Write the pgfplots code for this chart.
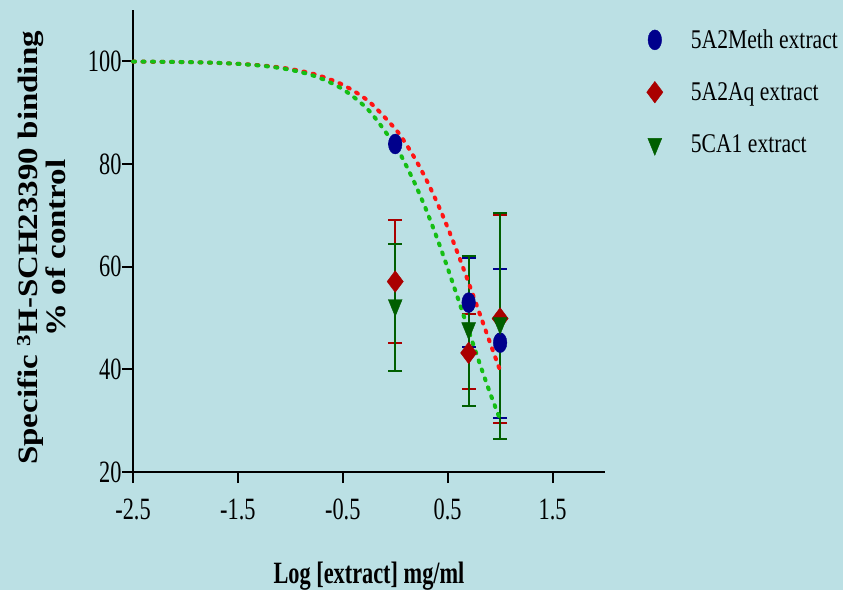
\documentclass[border=0pt]{standalone}
\usepackage{fontspec}
\setmainfont{Liberation Serif}[FakeStretch=0.72]
\newfontfamily\legfont{Liberation Serif}[FakeStretch=0.8]
\newfontfamily\ylfont{Liberation Serif}
\usepackage{graphicx}
\usepackage{pgfplots}
\pgfplotsset{compat=1.18}
\definecolor{bg}{RGB}{187,224,228}
\definecolor{mblue}{RGB}{0,0,140}
\definecolor{mred}{RGB}{170,0,0}
\definecolor{mgreen}{RGB}{0,95,0}
\definecolor{cred}{RGB}{255,20,20}
\definecolor{cgreen}{RGB}{20,190,20}
\begin{document}
\begin{tikzpicture}
\fill[bg] (0pt,0pt) rectangle (843pt,-590pt);
\path[use as bounding box] (0pt,0pt) rectangle (843pt,-590pt);
\begin{axis}[
  at={(133pt,-472pt)}, anchor=south west, scale only axis,
  width=472pt, height=462pt,
  xmin=-2.5, xmax=2.0, ymin=20, ymax=110,
  axis x line=bottom, axis y line=left,
  axis line style={line width=2pt, -},
  xtick={-2.5,-1.5,-0.5,0.5,1.5},
  xticklabels={-2.5,-1.5,-0.5,0.5,1.5},
  ytick={20,40,60,80,100},
  yticklabels={20,40,60,80,100},
  tick align=outside,
  major tick length=11pt,
  every tick/.style={line width=2pt, black},
  minor tick num=0,
  ticklabel style={font=\fontsize{31}{31}\selectfont},
  xticklabel style={yshift=-12pt},
  yticklabel style={xshift=3pt},
  xlabel={Log [extract] mg/ml},
  xlabel style={at={(axis description cs:0.5,-0.225)}, anchor=center, font=\bfseries\fontsize{31}{31}\selectfont},
  ylabel={\scalebox{1}[0.85]{\ylfont\bfseries\fontsize{33}{31}\selectfont\begin{tabular}{c}Specific \textsuperscript{3}H-SCH23390 binding\\ \% of control\end{tabular}}},
  ylabel style={at={(axis description cs:-0.186,0.485)}, anchor=center},
  legend style={at={(axis description cs:1.088,0.962)}, anchor=north west, draw=none, fill=none,
    font=\legfont\fontsize{27}{27}\selectfont, row sep=28.5pt, column sep=26pt, inner sep=0pt},
  legend cell align=left,
  clip=false,
]
\addplot+[only marks, mark=*, color=mblue, mark size=10pt,
  mark options={fill=mblue, draw=mblue, xscale=0.68},
  error bars/.cd, y dir=both, y explicit,
  error mark options={rotate=90, mark size=7pt, line width=2pt, mblue},
  error bar style={line width=2pt, mblue}]
  table[x=x, y=y, y error plus=ep, y error minus=em] {
x y ep em
0 83.9 0 0
0.7 53.0 8.6 8.6
1.0 45.2 14.4 14.7
};
\addlegendentry{5A2Meth extract}
\addplot+[only marks, mark=diamond*, color=mred, mark size=10.8pt,
  mark options={fill=mred, draw=mred},
  error bars/.cd, y dir=both, y explicit,
  error mark options={rotate=90, mark size=7pt, line width=2pt, mred},
  error bar style={line width=2pt, mred}]
  table[x=x, y=y, y error plus=ep, y error minus=em] {
x y ep em
0 57.1 11.9 11.9
0.7 43.2 7.5 7.0
1.0 49.9 20.1 20.4
};
\addlegendentry{5A2Aq extract}
\addplot+[only marks, mark=triangle*, color=mgreen, mark size=11.3pt,
  mark options={fill=mgreen, draw=mgreen, rotate=180, xscale=0.71},
  error bars/.cd, y dir=both, y explicit,
  error mark options={rotate=90, mark size=7pt, line width=2pt, mgreen},
  error bar style={line width=2pt, mgreen}]
  table[x=x, y=y, y error plus=ep, y error minus=em] {
x y ep em
0 52.5 12.0 12.8
0.7 48.0 14.0 15.1
1.0 49.0 21.4 22.6
};
\addlegendentry{5CA1 extract}
\addplot[cred, line width=4pt, dash pattern=on 2pt off 7.5pt, line cap=round, smooth, forget plot] coordinates {
(-2.5,99.95) (-2.25,99.91) (-2.0,99.85) (-1.75,99.73) (-1.5,99.52) (-1.25,99.16)
(-1.0,98.51) (-0.75,97.38) (-0.5,95.43) (-0.25,92.16) (0,86.85) (0.1,83.99)
(0.2,80.65) (0.3,76.80) (0.4,72.46) (0.5,67.63) (0.6,62.40) (0.7,56.86)
(0.8,51.15) (0.9,45.41) (1.0,39.78)
};
\addplot[cgreen, line width=4pt, dash pattern=on 2pt off 7.5pt, line cap=round, smooth, forget plot] coordinates {
(-2.5,99.96) (-2.25,99.92) (-2.0,99.86) (-1.75,99.74) (-1.5,99.51) (-1.25,99.10)
(-1.0,98.35) (-0.75,97.00) (-0.5,94.57) (-0.25,90.40) (0,83.56) (0.1,79.88)
(0.2,75.64) (0.3,70.82) (0.4,65.49) (0.5,59.73) (0.6,53.68) (0.7,47.53)
(0.8,41.46) (0.9,35.63) (1.0,30.21)
};
\end{axis}
\end{tikzpicture}
\end{document}
